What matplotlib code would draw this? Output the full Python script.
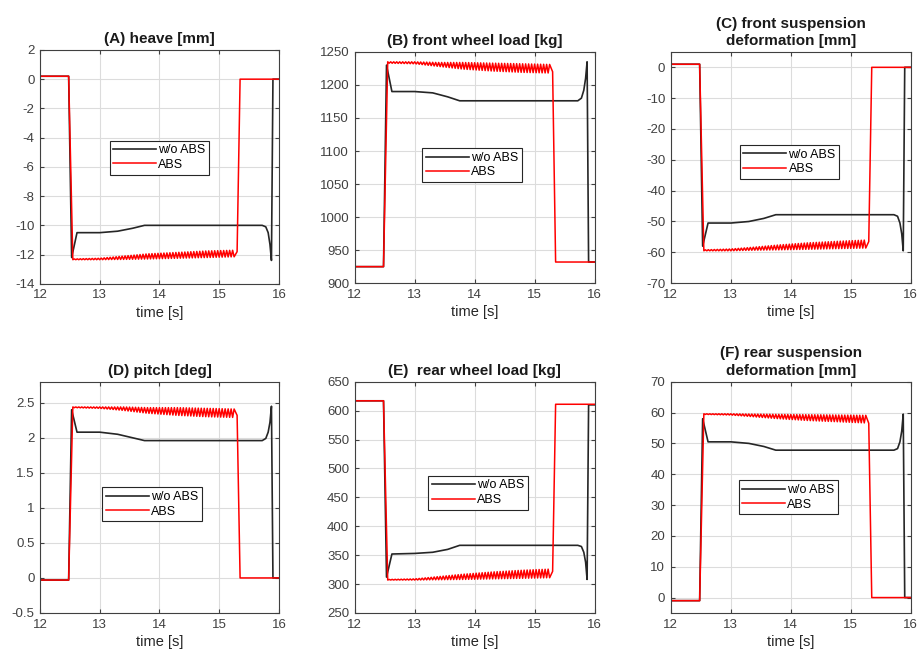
import numpy as np
import matplotlib.pyplot as plt

plt.rcParams['font.family'] = ['Liberation Sans', 'DejaVu Sans']
plt.rcParams['axes.unicode_minus'] = False

titles = ['(A) heave [mm]', '(B) front wheel load [kg]', '(C) front suspension\ndeformation [mm]',
          '(D) pitch [deg]', '(E)  rear wheel load [kg]', '(F) rear suspension\ndeformation [mm]']

# w/o ABS - key points (same time base in all panels)
noabs_t = [12.0, 12.48, 12.53, 12.62, 13.0, 13.3, 13.55, 13.75, 15.72, 15.78, 15.82, 15.85, 15.875, 15.9, 16.0]
heave_noabs = [0.2, 0.2, -12.2, -10.5, -10.5, -10.4, -10.2, -10.0, -10.0, -10.1, -10.5, -11.3, -12.4, 0.0, 0.0]
fload_noabs = [925, 925, 1230, 1190, 1190, 1188, 1182, 1176, 1176, 1180, 1192, 1210, 1235, 932, 932]
fdef_noabs = [1, 1, -58, -50.5, -50.5, -50, -49, -47.8, -47.8, -48.3, -50.5, -54, -59.5, 0, 0]
pitch_noabs = [-0.03, -0.03, 2.4, 2.08, 2.08, 2.05, 2.0, 1.96, 1.96, 1.99, 2.08, 2.22, 2.45, 0, 0]
rload_noabs = [617, 617, 312, 352, 353, 355, 360, 367, 367, 365, 355, 338, 308, 610, 610]
rdef_noabs = [-1, -1, 58, 50.5, 50.5, 50, 49, 47.8, 47.8, 48.3, 50.5, 54, 59.5, 0, 0]

# ABS - steps before/after braking, plus the envelope of the cycling part
abs_pre_t = [12.0, 12.48]
abs_post_t = [15.3, 15.35, 16.0]
abs_env_t = [12.55, 13.0, 13.4, 13.8, 14.3, 14.8, 15.27]
abs_period = 0.05

heave_abs_pre = [0.2, 0.2]
heave_abs_post = [-11.8, 0.0, 0.0]
heave_abs_base = [-12.35, -12.35, -12.33, -12.3, -12.25, -12.2, -12.15]
heave_abs_peak = [-12.3, -12.25, -12.1, -11.95, -11.85, -11.75, -11.7]

fload_abs_pre = [925, 925]
fload_abs_post = [1220, 932, 932]
fload_abs_base = [1235, 1235, 1234, 1234, 1233, 1232, 1231]
fload_abs_peak = [1233, 1232, 1228, 1224, 1221, 1219, 1218]

fdef_abs_pre = [1, 1]
fdef_abs_post = [-56.5, 0, 0]
fdef_abs_base = [-59.5, -59.5, -59.3, -59.2, -59.0, -58.8, -58.6]
fdef_abs_peak = [-59.2, -58.9, -58.3, -57.6, -56.9, -56.4, -56.0]

pitch_abs_pre = [-0.03, -0.03]
pitch_abs_post = [2.32, 0, 0]
pitch_abs_base = [2.44, 2.44, 2.44, 2.43, 2.43, 2.42, 2.41]
pitch_abs_peak = [2.43, 2.42, 2.39, 2.35, 2.32, 2.30, 2.29]

rload_abs_pre = [617, 617]
rload_abs_post = [322, 611, 611]
rload_abs_base = [307, 307, 307.5, 308, 309, 310, 311]
rload_abs_peak = [308, 309, 313, 317, 321, 324, 326]

rdef_abs_pre = [-1, -1]
rdef_abs_post = [56.5, 0, 0]
rdef_abs_base = [59.6, 59.6, 59.5, 59.4, 59.3, 59.2, 59.1]
rdef_abs_peak = [59.4, 59.2, 58.6, 58.0, 57.4, 57.0, 56.6]

noabs = [heave_noabs, fload_noabs, fdef_noabs, pitch_noabs, rload_noabs, rdef_noabs]
abs_pre = [heave_abs_pre, fload_abs_pre, fdef_abs_pre, pitch_abs_pre, rload_abs_pre, rdef_abs_pre]
abs_post = [heave_abs_post, fload_abs_post, fdef_abs_post, pitch_abs_post, rload_abs_post, rdef_abs_post]
abs_base = [heave_abs_base, fload_abs_base, fdef_abs_base, pitch_abs_base, rload_abs_base, rdef_abs_base]
abs_peak = [heave_abs_peak, fload_abs_peak, fdef_abs_peak, pitch_abs_peak, rload_abs_peak, rdef_abs_peak]

ylims = [(-14, 2), (900, 1250), (-70, 5), (-0.5, 2.8), (250, 650), (-5, 70)]
yticks = [np.arange(-14, 2.1, 2), np.arange(900, 1251, 50), np.arange(-70, 1, 10),
          np.arange(-0.5, 2.6, 0.5), np.arange(250, 651, 50), np.arange(0, 71, 10)]
yticklabels = [None, None, None, ['-0.5', '0', '0.5', '1', '1.5', '2', '2.5'], None, None]

# legend centre (axes fraction)
leg_pos = [(0.50, 0.54), (0.49, 0.51), (0.495, 0.525), (0.47, 0.47), (0.515, 0.52), (0.49, 0.50)]

# axes rectangles in figure fraction
rects = [(0.0435, 0.568, 0.260, 0.356), (0.386, 0.569, 0.261, 0.352), (0.730, 0.569, 0.261, 0.352),
         (0.0435, 0.067, 0.260, 0.352), (0.386, 0.067, 0.261, 0.352), (0.730, 0.067, 0.261, 0.352)]

fig = plt.figure(figsize=(9.19, 6.57), dpi=100)

for i in range(6):
    ax = fig.add_axes(rects[i])

    # cycling part of the ABS run: alternate between base and peak envelope
    tt = np.arange(abs_env_t[0], abs_env_t[-1], abs_period / 2)
    base = np.interp(tt, abs_env_t, abs_base[i])
    peak = np.interp(tt, abs_env_t, abs_peak[i])
    zz = np.where(np.arange(len(tt)) % 2 == 0, base, peak)
    red_t = np.concatenate([abs_pre_t, tt, abs_post_t])
    red_y = np.concatenate([abs_pre[i], zz, abs_post[i]])

    ax.plot(noabs_t, noabs[i], color='#262626', lw=1.2, label='w/o ABS')
    ax.plot(red_t, red_y, color='#ff0000', lw=1.1, label='ABS')

    ax.set_xlim(12, 16)
    ax.set_ylim(ylims[i])
    ax.set_xticks([12, 13, 14, 15, 16])
    ax.set_yticks(yticks[i])
    if yticklabels[i] is not None:
        ax.set_yticklabels(yticklabels[i])
    ax.grid(True, color='#dcdcdc', lw=0.8)
    ax.set_axisbelow(True)
    ax.tick_params(direction='in', length=3, top=True, right=True, labelsize=9.5,
                   colors='#404040', labelcolor='#404040', pad=4)
    for s in ax.spines.values():
        s.set_color('#404040')
        s.set_linewidth(0.8)
    ax.set_title(titles[i], fontsize=11, fontweight='bold', color='#1a1a1a', pad=5, linespacing=1.3)
    ax.set_xlabel('time [s]', fontsize=10.5, color='#262626', labelpad=3)

    leg = ax.legend(loc='center', bbox_to_anchor=leg_pos[i], fontsize=9, handlelength=3.4,
                    frameon=True, fancybox=False, edgecolor='#262626', framealpha=1,
                    borderpad=0.3, labelspacing=0.2, handletextpad=0.2, borderaxespad=0)
    leg.get_frame().set_linewidth(0.8)

fig.savefig('out.png', dpi=100)
